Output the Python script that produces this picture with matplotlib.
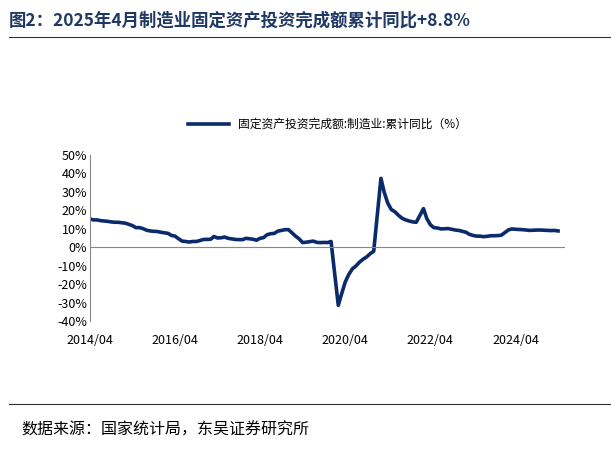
import matplotlib
matplotlib.use("Agg")
import matplotlib.pyplot as plt
import datetime as dt

plt.rcParams["font.family"] = ["Noto Sans CJK SC", "DejaVu Sans"]

title = "图2：2025年4月制造业固定资产投资完成额累计同比+8.8%"
series_name = "固定资产投资完成额:制造业:累计同比（%）"
source = "数据来源：国家统计局，东吴证券研究所"

months_by_year = {
    2014: [4, 5, 6, 7, 8, 9, 10, 11, 12],
    2015: list(range(2, 13)), 2016: list(range(2, 13)), 2017: list(range(2, 13)),
    2018: list(range(2, 13)), 2019: list(range(2, 13)), 2020: list(range(2, 13)),
    2021: list(range(2, 13)), 2022: list(range(2, 13)), 2023: list(range(2, 13)),
    2024: list(range(2, 13)), 2025: [2, 3, 4],
}
values_by_year = {
    2014: [15.3, 14.8, 14.8, 14.4, 14.2, 14.0, 13.7, 13.5, 13.5],
    2015: [13.0, 12.4, 11.7, 10.6, 10.6, 10.1, 9.2, 8.8, 8.6, 8.5, 8.1],
    2016: [7.5, 6.4, 6.0, 4.6, 3.3, 3.1, 2.8, 3.1, 3.1, 3.6, 4.2],
    2017: [4.3, 5.8, 5.0, 5.1, 5.5, 4.8, 4.5, 4.2, 4.1, 4.1, 4.8],
    2018: [4.3, 3.8, 4.8, 5.2, 6.8, 7.3, 7.5, 8.7, 9.1, 9.5, 9.5],
    2019: [5.9, 4.6, 2.5, 2.7, 3.0, 3.3, 2.6, 2.5, 2.6, 2.5, 3.1],
    2020: [-31.5, -25.2, -18.8, -14.8, -11.7, -10.2, -8.1, -6.5, -5.3, -3.5, -2.2],
    2021: [37.3, 29.8, 23.8, 20.4, 19.2, 17.3, 15.7, 14.8, 14.2, 13.7, 13.5],
    2022: [20.9, 15.6, 12.2, 10.6, 10.4, 9.9, 10.0, 10.1, 9.7, 9.3, 9.1],
    2023: [8.1, 7.0, 6.4, 6.0, 6.0, 5.7, 5.9, 6.2, 6.2, 6.3, 6.5],
    2024: [9.4, 9.9, 9.7, 9.6, 9.5, 9.3, 9.1, 9.2, 9.3, 9.3, 9.2],
    2025: [9.0, 9.1, 8.8],
}
x_tick_labels = ["2014/04", "2016/04", "2018/04", "2020/04", "2022/04", "2024/04"]
y_ticks = [-40, -30, -20, -10, 0, 10, 20, 30, 40, 50]

dates, vals = [], []
for y in months_by_year:
    for m, v in zip(months_by_year[y], values_by_year[y]):
        dates.append(dt.date(y, m, 1))
        vals.append(v)

navy = "#0B2A6B"
fig = plt.figure(figsize=(6.11, 4.49), dpi=100)
fig.text(0.015, 0.955, title, fontsize=12.5, fontweight="bold", color="#1F3864", va="center")
fig.add_artist(plt.Line2D([0.015, 1.0], [0.918, 0.918], color="#333333", lw=0.8))
fig.add_artist(plt.Line2D([0.015, 1.0], [0.10, 0.10], color="#333333", lw=0.8))
fig.text(0.035, 0.042, source, fontsize=11.5, color="black", va="center")

ax = fig.add_axes([0.147, 0.285, 0.778, 0.37])
ax.plot(dates, vals, color=navy, lw=2.6, label=series_name)
ax.set_ylim(-40, 50)
ax.set_yticks(y_ticks)
ax.set_yticklabels([f"{t}%" for t in y_ticks], fontsize=9)
ax.set_xlim(dt.date(2014, 4, 1), dt.date(2025, 6, 1))
xt = [dt.date(int(s[:4]), int(s[5:]), 1) for s in x_tick_labels]
ax.set_xticks(xt)
ax.set_xticklabels(x_tick_labels, fontsize=9)
ax.tick_params(axis="x", length=0, pad=9)
ax.tick_params(axis="y", length=0, pad=2)
for s in ["top", "right", "bottom"]:
    ax.spines[s].set_visible(False)
ax.spines["left"].set_color("#888888")
ax.axhline(0, color="#888888", lw=0.8)
ax.legend(loc="lower center", bbox_to_anchor=(0.5, 1.08), frameon=False, fontsize=8.5,
          handlelength=3.5)
fig.savefig("out.png", dpi=100)
